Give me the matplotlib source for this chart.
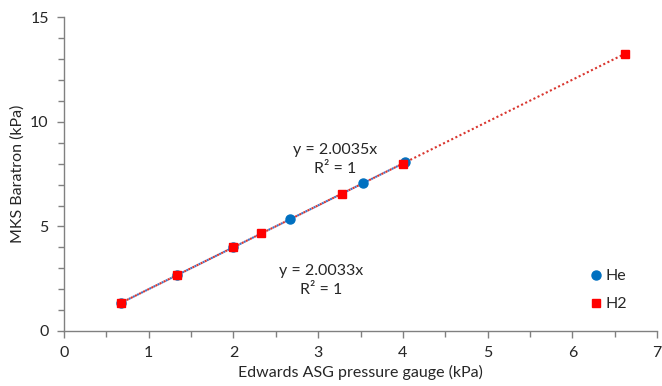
#!/usr/bin/env python3

import matplotlib.pyplot as plt
from matplotlib.ticker import MultipleLocator
import numpy as np

plt.rcParams['font.family'] = ['Lato', 'DejaVu Sans']

# Edwards ASG reading (kPa) vs MKS Baratron reading (kPa)
he_x = [0.667, 1.333, 2.0, 2.67, 3.53, 4.03]
he_y = [1.34, 2.67, 4.01, 5.35, 7.07, 8.07]
h2_x = [0.667, 1.333, 2.0, 2.33, 3.28, 4.0, 6.62]
h2_y = [1.33, 2.67, 4.0, 4.67, 6.57, 8.01, 13.26]

he_slope = 2.0035
h2_slope = 2.0033

he_col = '#0070C0'
h2_col = '#FF0000'
grey = '#808080'
txt = '#262626'

if __name__ == "__main__":
  fig = plt.figure(figsize=(6.62, 3.86), dpi=100)
  ax = fig.add_axes([0.0967, 0.1425, 0.8958, 0.8122])

  # trendlines through the origin, drawn over each series' x range
  xs = np.array([min(he_x), max(he_x)])
  ax.plot(xs, he_slope*xs, ls=(0, (1, 1.2)), lw=1.5, color='#4472C4', zorder=2)
  xs = np.array([min(h2_x), max(h2_x)])
  ax.plot(xs, h2_slope*xs, ls=(1.1, (1, 1.2)), lw=1.5, color='#D9362F', zorder=2)

  ax.plot(he_x, he_y, 'o', ms=6.5, color=he_col, mec=he_col, label='He', zorder=3)
  ax.plot(h2_x, h2_y, 's', ms=6, color=h2_col, mec=h2_col, label='H2', zorder=4)

  ax.text(3.2, 8.2, 'y = 2.0035x\nR² = 1', ha='center', va='center',
          fontsize=11.5, color=txt, linespacing=1.4)
  ax.text(3.03, 2.4, 'y = 2.0033x\nR² = 1', ha='center', va='center',
          fontsize=11.5, color=txt, linespacing=1.45)

  ax.set_xlim(0, 7)
  ax.set_ylim(0, 15)
  ax.xaxis.set_major_locator(MultipleLocator(1))
  ax.xaxis.set_minor_locator(MultipleLocator(0.5))
  ax.yaxis.set_major_locator(MultipleLocator(5))
  ax.yaxis.set_minor_locator(MultipleLocator(1))

  for s in ['top', 'right']:
    ax.spines[s].set_visible(False)
  for s in ['left', 'bottom']:
    ax.spines[s].set_color(grey)
    ax.spines[s].set_linewidth(1.0)
  ax.tick_params(which='both', direction='out', color=grey, width=1.0,
                 labelsize=11.5, labelcolor=txt)
  ax.tick_params(which='major', length=5, pad=6)
  ax.tick_params(which='minor', length=4)

  ax.set_xlabel('Edwards ASG pressure gauge (kPa)', fontsize=11.5, color=txt, labelpad=3)
  ax.set_ylabel('MKS Baratron (kPa)', fontsize=11.5, color=txt, labelpad=4)

  leg = ax.legend(loc='center left', bbox_to_anchor=(0.865, 0.13), frameon=False,
                  fontsize=11.5, handlelength=0.6, handletextpad=0.3,
                  labelspacing=0.85, labelcolor=txt)

  fig.savefig('out.png', dpi=100)
  plt.close('all')
